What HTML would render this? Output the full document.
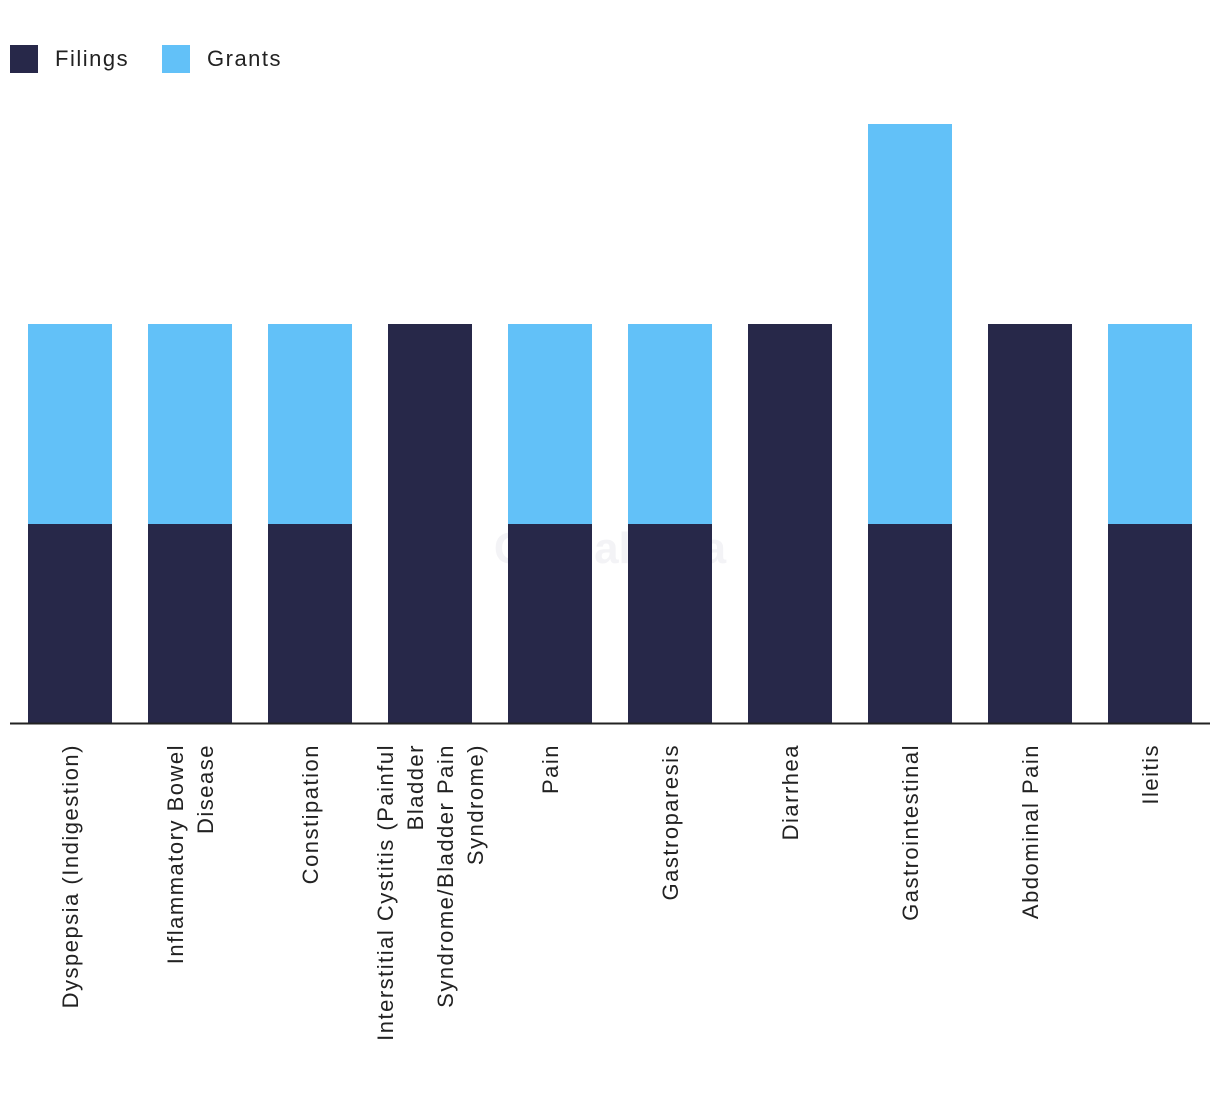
<!DOCTYPE html>
<html><head><meta charset="utf-8">
<style>
html,body{margin:0;padding:0;background:#fff;}
svg{display:block;font-family:"Liberation Sans",Arial,sans-serif;}
</style></head>
<body>
<svg id="chart" width="1220" height="1094">
<g>
<rect x="10" y="45" width="28" height="28" fill="#272849"/>
<text x="55" y="66" font-size="22" letter-spacing="1.5" fill="#222">Filings</text>
<rect x="162" y="45" width="28" height="28" fill="#62C1F8"/>
<text x="207" y="66" font-size="22" letter-spacing="1.5" fill="#222">Grants</text>
</g>
<text x="610" y="563" font-size="44" font-weight="bold" fill="#f3f3f6" text-anchor="middle">GlobalData</text>
<g id="bars"></g>
<g id="labels"></g>
<line x1="10" y1="723.5" x2="1210" y2="723.5" stroke="#222" stroke-width="2"/>
</svg>
<script>
const categories = [
 ["Dyspepsia (Indigestion)"],
 ["Inflammatory Bowel","Disease"],
 ["Constipation"],
 ["Interstitial Cystitis (Painful","Bladder","Syndrome/Bladder Pain","Syndrome)"],
 ["Pain"],
 ["Gastroparesis"],
 ["Diarrhea"],
 ["Gastrointestinal"],
 ["Abdominal Pain"],
 ["Ileitis"]
];
const filings = [1,1,1,2,1,1,2,1,2,1];
const grants  = [1,1,1,0,1,1,0,2,0,1];

const NS = "http://www.w3.org/2000/svg";
const baseY = 724, unit = 200, x0 = 10, step = 120, barW = 84;
function xCenter(i){ return x0 + step*i + 60; }
function yScale(v){ return baseY - v*unit; }
const barsG = document.getElementById('bars');
const labelsG = document.getElementById('labels');
categories.forEach((lines,i)=>{
  const cx = xCenter(i);
  const f = filings[i], g = grants[i];
  const rf = document.createElementNS(NS,'rect');
  rf.setAttribute('x', cx-barW/2); rf.setAttribute('width', barW);
  rf.setAttribute('y', yScale(f)); rf.setAttribute('height', baseY - yScale(f));
  rf.setAttribute('fill','#272849');
  
  
  barsG.appendChild(rf);
  if (g > 0) {
    const rg = document.createElementNS(NS,'rect');
    rg.setAttribute('x', cx-barW/2); rg.setAttribute('width', barW);
    rg.setAttribute('y', yScale(f+g)); rg.setAttribute('height', yScale(f) - yScale(f+g));
    rg.setAttribute('fill','#62C1F8');
    
    
    barsG.appendChild(rg);
  }
  const lh = 30, n = lines.length;
  lines.forEach((t,j)=>{
    const lx = cx + (j - (n-1)/2)*lh + 8;
    const tx = document.createElementNS(NS,'text');
    tx.setAttribute('transform', `translate(${lx},744) rotate(-90)`);
    tx.setAttribute('text-anchor','end');
    tx.setAttribute('font-size','22');
    tx.setAttribute('letter-spacing','1.5');
    tx.setAttribute('fill','#222');
    tx.textContent = t;
    
    
    labelsG.appendChild(tx);
  });
});
</script>
</body></html>
